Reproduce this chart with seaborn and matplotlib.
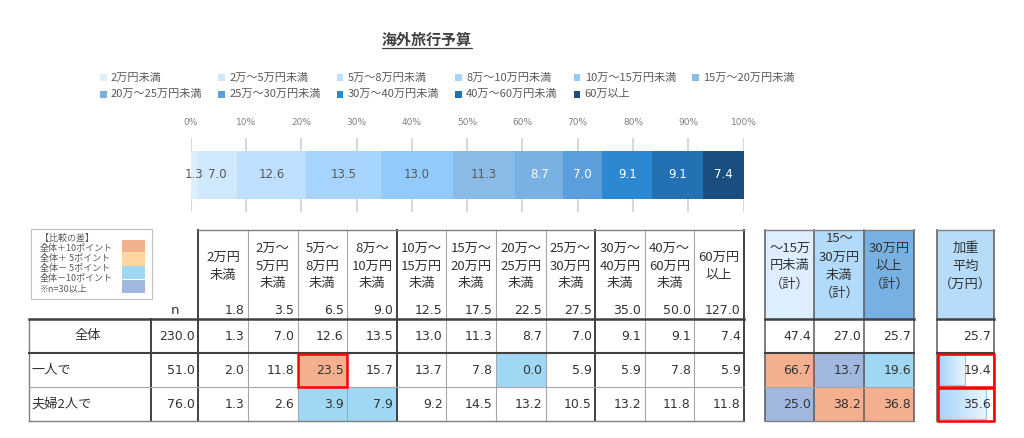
import numpy as np
import pandas as pd
import matplotlib
matplotlib.use("Agg")
import matplotlib.pyplot as plt
import seaborn as sns
from matplotlib.patches import Rectangle
from matplotlib.colors import ListedColormap, LinearSegmentedColormap

# ---------------- data ----------------
chart_title = "海外旅行予算"
budget_categories = ["2万円未満", "2万～5万円未満", "5万～8万円未満", "8万～10万円未満",
                     "10万～15万円未満", "15万～20万円未満", "20万～25万円未満", "25万～30万円未満",
                     "30万～40万円未満", "40万～60万円未満", "60万以上"]
overall_pct = [1.3, 7.0, 12.6, 13.5, 13.0, 11.3, 8.7, 7.0, 9.1, 9.1, 7.4]
pct_ticks = [0, 10, 20, 30, 40, 50, 60, 70, 80, 90, 100]
pct_tick_labels = [f"{t}%" for t in pct_ticks]

column_headers = ["2万円\n未満", "2万～\n5万円\n未満", "5万～\n8万円\n未満", "8万～\n10万円\n未満",
                  "10万～\n15万円\n未満", "15万～\n20万円\n未満", "20万～\n25万円\n未満",
                  "25万～\n30万円\n未満", "30万～\n40万円\n未満", "40万～\n60万円\n未満", "60万円\n以上"]
column_midpoints = [1.8, 3.5, 6.5, 9.0, 12.5, 17.5, 22.5, 27.5, 35.0, 50.0, 127.0]

row_labels = ["全体", "一人で", "夫婦2人で"]
row_n = [230.0, 51.0, 76.0]
row_detail = [
    [1.3, 7.0, 12.6, 13.5, 13.0, 11.3, 8.7, 7.0, 9.1, 9.1, 7.4],
    [2.0, 11.8, 23.5, 15.7, 13.7, 7.8, 0.0, 5.9, 5.9, 7.8, 5.9],
    [1.3, 2.6, 3.9, 7.9, 9.2, 14.5, 13.2, 10.5, 13.2, 11.8, 11.8],
]
group_headers = ["～15万\n円未満\n（計）", "15～\n30万円\n未満\n（計）", "30万円\n以上\n（計）"]
group_values = [
    [47.4, 27.0, 25.7],
    [66.7, 13.7, 19.6],
    [25.0, 38.2, 36.8],
]
avg_header = "加重\n平均\n（万円）"
avg_values = [25.7, 19.4, 35.6]

compare_title = "【比較の差】"
compare_labels = ["全体＋10ポイント", "全体＋ 5ポイント", "全体－ 5ポイント", "全体－10ポイント"]
compare_note = "※n=30以上"

# ---------------- styles ----------------
bar_colors = ["#DDEEFD", "#D0E8FE", "#BEDFFE", "#A7D4FD", "#91CAFB", "#89BBE6",
              "#78B1E2", "#5A9FDB", "#2D88D2", "#2370B2", "#1B4E7F"]
cmp_colors = ["#FFFFFF", "#F4B08E", "#FFD69E", "#A0D8F4", "#A2B7E0"]
group_header_colors = ["#DDEFFE", "#B2DAFA", "#78B1E1"]
avg_header_color = "#B6DCFA"
TXT = "#333333"
GRAY_TXT = "#595959"
DARK = "#404040"
THIN = "#A6A6A6"
JP = ["Noto Sans CJK JP", "DejaVu Sans"]
NUM = ["DejaVu Sans"]

sns.set_theme(style="white")
plt.rcParams["font.family"] = JP

W, H = 1024, 438
fig = plt.figure(figsize=(W / 100, H / 100), dpi=100)


def frac(x0, y0, x1, y1):
    return [x0 / W, 1 - y1 / H, (x1 - x0) / W, (y1 - y0) / H]


def cmp_code(v, base, n):
    if n < 30:
        return 0
    d = round(v - base, 1)
    if d >= 10:
        return 1
    if d >= 5:
        return 2
    if d <= -10:
        return 4
    if d <= -5:
        return 3
    return 0


# ---------------- stacked bar (overall) ----------------
axb = fig.add_axes(frac(190.7, 138, 743.5, 212))
cum = np.cumsum(overall_pct)
for i in range(len(overall_pct) - 1, -1, -1):
    sns.barplot(x=[cum[i]], y=["全体"], orient="h", color=bar_colors[i], saturation=1,
                width=0.643, linewidth=0, ax=axb)
axb.set_xlim(0, 100)
axb.set_ylim(0.5, -0.5)
axb.set_xticks(pct_ticks)
axb.set_xticklabels(pct_tick_labels, family=NUM)
axb.xaxis.tick_top()
axb.tick_params(axis="x", length=0, pad=8, labelsize=6.5, labelcolor="#7F7F7F")
axb.set_yticks([])
axb.grid(axis="x", color="#D9D9D9", linewidth=1.5)
axb.set_axisbelow(True)
for s in axb.spines.values():
    s.set_visible(False)
axb.set_xlabel("")
axb.set_ylabel("")
axb.patch.set_alpha(0)
for i, v in enumerate(overall_pct):
    axb.text(cum[i] - v / 2, 0, f"{v:.1f}", ha="center", va="center", fontsize=8.5,
             color="white" if i >= 6 else GRAY_TXT, family=NUM)

# ---------------- table geometry ----------------
ncol = len(column_headers)
left_x0, left_x1 = 198.3, 744.0
colw = (left_x1 - left_x0) / ncol
xs = [left_x0 + k * colw for k in range(ncol + 1)]
rows_y = [319, 353, 387, 421]
row_cy = [(rows_y[i] + rows_y[i + 1]) / 2 for i in range(3)]
gx = [765.0, 814.3, 864.3, 914.3]
ax0, ax1 = 937.3, 994.3
PAD = 3.5


def right_align(ax, width_px, ncols):
    cw = width_px / ncols
    for t in ax.texts:
        x, y = t.get_position()
        t.set_ha("right")
        t.set_x(x + 0.5 - PAD / cw)


cmap = ListedColormap(cmp_colors)

# detail heatmap
axd = fig.add_axes(frac(left_x0, rows_y[0], left_x1, rows_y[-1]))
detail_codes = np.array([[0 if r == 0 else cmp_code(v, row_detail[0][j], row_n[r])
                          for j, v in enumerate(row)] for r, row in enumerate(row_detail)])
sns.heatmap(detail_codes, cmap=cmap, vmin=-0.5, vmax=4.5, cbar=False,
            annot=np.array(row_detail), fmt=".1f",
            annot_kws=dict(color=TXT, fontsize=9, family="DejaVu Sans"),
            xticklabels=False, yticklabels=False, ax=axd)
right_align(axd, left_x1 - left_x0, ncol)

# group heatmap
axg = fig.add_axes(frac(gx[0], rows_y[0], gx[-1], rows_y[-1]))
group_codes = np.array([[0 if r == 0 else cmp_code(v, group_values[0][j], row_n[r])
                         for j, v in enumerate(row)] for r, row in enumerate(group_values)])
sns.heatmap(group_codes, cmap=cmap, vmin=-0.5, vmax=4.5, cbar=False,
            annot=np.array(group_values), fmt=".1f",
            annot_kws=dict(color=TXT, fontsize=9, family="DejaVu Sans"),
            xticklabels=False, yticklabels=False, ax=axg)
right_align(axg, gx[-1] - gx[0], 3)

# weighted average data bars
axw = fig.add_axes(frac(ax0, rows_y[0], ax1, rows_y[-1]))
bar_df = pd.DataFrame({"row": row_labels[1:], "avg": avg_values[1:]})
sns.barplot(data=bar_df, x="avg", y="row", order=row_labels, orient="h", color="#A9D7F7",
            saturation=1, width=0.88, edgecolor="#8CC5EE", linewidth=0.8, ax=axw)
grad = LinearSegmentedColormap.from_list("g", ["#A6D5F7", "#E9F5FE"])
for p in list(axw.patches):
    bb = p.get_bbox()
    if bb.width <= 0:
        continue
    im = axw.imshow(np.linspace(0, 1, 100)[None, :], cmap=grad,
                    extent=[bb.x0, bb.x1, bb.y1, bb.y0], aspect="auto",
                    zorder=p.get_zorder() - 0.5, interpolation="bilinear")
    im.set_clip_path(p)
    p.set_facecolor("none")
axw.set_xlim(-1.2, 41.5)
axw.set_ylim(2.5, -0.5)
axw.axis("off")

# ---------------- overlay ----------------
ov = fig.add_axes([0, 0, 1, 1])
ov.set_zorder(10)
ov.set_xlim(0, W)
ov.set_ylim(H, 0)
ov.axis("off")


def hline(y, x0, x1, c, lw):
    ov.plot([x0, x1], [y, y], color=c, lw=lw, solid_capstyle="projecting", zorder=5)


def vline(x, y0, y1, c, lw):
    ov.plot([x, x], [y0, y1], color=c, lw=lw, solid_capstyle="projecting", zorder=5)


# title
ov.text(426.7, 40, chart_title, ha="center", va="center", fontsize=10.8,
        fontweight="bold", color=DARK)
ov.plot([381.7, 471.7], [47.5, 47.5], color=DARK, lw=0.9)

# top legend
for k, cat in enumerate(budget_categories):
    r, c = divmod(k, 6)
    x = 100 + c * 118.4
    y = 77.5 + r * 16.8
    ov.add_patch(Rectangle((x, y - 3.3), 6.6, 6.6, color=bar_colors[k], lw=0))
    ov.text(x + 11, y, cat, ha="left", va="center", fontsize=8, color=GRAY_TXT)

# comparison legend box
ov.add_patch(Rectangle((30.7, 229), 121, 70, facecolor="white", edgecolor="#BFBFBF", lw=0.8))
ov.text(40, 238, compare_title, ha="left", va="center", fontsize=6.5, color=GRAY_TXT)
for k, lab in enumerate(compare_labels):
    ov.text(40, 248 + 10 * k, lab, ha="left", va="center", fontsize=6.5, color=GRAY_TXT)
ov.text(40, 289, compare_note, ha="left", va="center", fontsize=6.5, color=GRAY_TXT)
sw_y = [240, 252.3, 266.3, 280, 293.3]
for k in range(4):
    ov.add_patch(Rectangle((122, sw_y[k]), 23, sw_y[k + 1] - sw_y[k] - 0.6,
                           color=cmp_colors[k + 1], lw=0))

# header fills
for j in range(3):
    ov.add_patch(Rectangle((gx[j], 230), gx[j + 1] - gx[j], 89, color=group_header_colors[j], lw=0, zorder=1))
ov.add_patch(Rectangle((ax0, 230), ax1 - ax0, 89, color=avg_header_color, lw=0, zorder=1))


def header_text(cx, label):
    lines = label.split("\n")
    y0 = 266 - (len(lines) - 1) * 9
    for i, ln in enumerate(lines):
        ov.text(cx, y0 + i * 18, ln, ha="center", va="center", fontsize=9.5, color=TXT, zorder=6)


for j, lab in enumerate(column_headers):
    header_text((xs[j] + xs[j + 1]) / 2, lab)
    ov.text(xs[j + 1] - PAD, 311, f"{column_midpoints[j]:.1f}", ha="right", va="center",
            fontsize=9, color=TXT, family=NUM, zorder=6)
for j, lab in enumerate(group_headers):
    header_text((gx[j] + gx[j + 1]) / 2, lab)
header_text((ax0 + ax1) / 2, avg_header)

ov.text(174.5, 311, "n", ha="center", va="center", fontsize=9.5, color=TXT, family=NUM)

# row labels, n, weighted values
for r, lab in enumerate(row_labels):
    if r == 0:
        ov.text(88, row_cy[r], lab, ha="center", va="center", fontsize=9.5, color=TXT)
    else:
        ov.text(31, row_cy[r], lab, ha="left", va="center", fontsize=9.5, color=TXT)
    ov.text(left_x0 - PAD, row_cy[r], f"{row_n[r]:.1f}", ha="right", va="center",
            fontsize=9, color=TXT, family=NUM, zorder=6)
    ov.text(ax1 - PAD, row_cy[r], f"{avg_values[r]:.1f}", ha="right", va="center",
            fontsize=9, color=TXT, family=NUM, zorder=6)

# left table lines
for k in range(ncol + 1):
    if k in (0, 4, 8, ncol):
        vline(xs[k], 230, 421, DARK, 1.4)
    else:
        vline(xs[k], 230, 421, THIN, 0.8)
vline(151, 319, 421, DARK, 1.4)
vline(29, 319, 421, "#808080", 1.0)
hline(230, xs[0], xs[-1], "#808080", 1.0)
hline(319, 29, xs[-1], DARK, 1.8)
hline(353, 29, xs[-1], DARK, 1.5)
hline(387, 29, xs[-1], THIN, 0.8)
hline(421, 29, xs[-1], "#808080", 1.0)

# right tables lines
for x0_, x1_, xl in [(gx[0], gx[-1], gx), (ax0, ax1, [ax0, ax1])]:
    for x in xl:
        vline(x, 230, 421, "#595959", 1.1)
    hline(230, x0_, x1_, "#808080", 1.0)
    hline(319, x0_, x1_, DARK, 1.8)
    hline(353, x0_, x1_, DARK, 1.5)
    hline(387, x0_, x1_, THIN, 0.8)
    hline(421, x0_, x1_, "#808080", 1.0)

# red outlined cells
for (x0_, x1_, y0_, y1_) in [(xs[2], xs[3], 353, 387), (ax0, ax1, 353, 387), (ax0, ax1, 387, 421)]:
    ov.add_patch(Rectangle((x0_ + 0.5, y0_ + 0.5), x1_ - x0_ - 1, y1_ - y0_ - 1, fill=False,
                           edgecolor="#FF0000", lw=1.8, zorder=7))

fig.savefig("out.png", dpi=100, facecolor="white")
